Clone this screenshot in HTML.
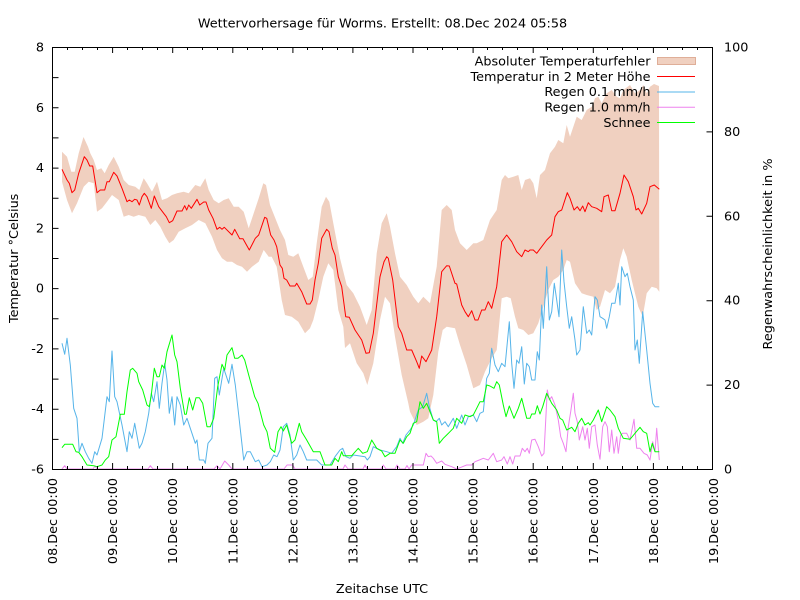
<!DOCTYPE html>
<html><head><meta charset="utf-8"><style>
html,body{margin:0;padding:0;background:#fff;}
svg{display:block;font-family:"DejaVu Sans","Liberation Sans",sans-serif;}
</style></head><body>
<svg width="800" height="600" viewBox="0 0 800 600" xmlns="http://www.w3.org/2000/svg">
<rect width="800" height="600" fill="#fff"/>
<text x="382.5" y="27.5" font-size="12.8" text-anchor="middle">Wettervorhersage für Worms. Erstellt: 08.Dec 2024 05:58</text>

<!-- error band -->
<polygon fill="#f0d0c0" stroke="none" points="
62,151.7 67,156.7 71.3,171.7 74.7,171.7 78.7,153.3 83.5,137 88,146.7 90.3,153.3 93.7,160 97,170 101.3,168.3 104.7,173.3 108.7,165 113.7,156.7 118.7,166.7 123.7,180 128.7,185 135.3,186.7 139.3,190 143.7,178.3 147,183.3 152,191.7 157,181.7 162,200 167,198.3 172,195 177,193.3 183.7,191.7 188.7,193.3 195.3,185 200.3,186.7 205.3,178.3 208.7,190 213.7,200 218.7,203.3 223.7,200 228.7,198.3 233.7,206.7 238.7,206.7 243.7,211.7 248.7,228.3 253.7,213.3 258.7,198.3 263.3,183.3 266,185 270,205 273.3,213.3 276.7,221.7 280,230 285,240 288.3,255 293.3,256.7 298.3,253.3 303.3,266.7 308.3,280 312.7,276.7 316.7,243.3 321.7,206.7 326,196.7 329.3,201.7 333.3,223.3 340,258.3 346.7,285 353.3,293.3 360,306.7 366.7,325 371.7,310 376.7,253.3 381.7,223.3 386.7,213.3 390,226.7 395,253.3 400,276.7 406.7,285 413.3,296.7 418.3,303.3 423.3,296.7 430,303.3 436.7,266.7 441.7,210 446.7,205 451.7,210 455,230 460,243.3 466.7,250 473.3,243.3 476.7,243.3 483.3,240 490,220 496.7,210 501.7,180 505,175 508.3,178.3 513.3,176.7 518.3,175 521.7,190 525,180 530,178.3 533.3,183.3 536.7,198.3 540,175 545,170 550,153.3 555,146.7 558.3,140 563.3,143.3 566.7,125 570,136.7 576.7,116.7 581.7,120 586.7,110 591.7,106.7 595,98.3 598.3,96.7 601.7,103.3 606.7,93.3 611.7,90 616.7,96.7 620,98.3 623.3,90 630,85 635,93.3 640,90 643.3,85 646.7,93.3 650,86.7 654,84 659,86
659.3,291.7 656.7,288.3 651.7,286.7 646.7,293.3 642.7,316.7 638.3,306.7 631.7,280 626.7,256.7 623.3,248.3 620,260 615,286.7 610,293.3 605,290 600,306.7 596.7,310 593.3,296.7 586.7,295 581.7,293.3 575,283.3 570,261.7 566.7,260 563.3,270 558.3,276.7 553.3,280 548.3,290 543.3,306.7 538.3,323.3 533.3,333.3 528.3,335 523.3,330 518.3,328.3 515,316.7 510.7,298.3 506.7,296.7 501.7,298.3 496.7,350 491.7,358.3 485,371.7 480,385 473.3,388.3 466.7,365 460,345 455,328.3 446.7,326.7 442.7,330 438.3,351.7 433.3,395 428.3,418.3 423.3,421.7 416.7,425 410,411.7 408.3,403.3 401.7,375 395,336.7 390,303.3 385,296.7 380,320 373.3,363.3 370,375 367.3,385 363.3,373.3 356.7,363.3 350,343.3 345,348 343.3,326.7 338.3,310 333.3,270 328.3,263.3 323.3,276.7 318.3,300 313.3,320 310,328.3 305,333.3 298.3,321.7 291.7,316.7 285,315 281.7,300 276.7,266.7 271.7,256.7 268.7,256.7 263.7,250 258.7,261.7 252,266.7 247,271.7 242,266.7 237,265 232,261.7 227,261.7 222,258.3 217,250 212,236.7 205.3,223.3 198.7,220 192,225 185.3,228.3 178.7,231.7 173.7,240 169.3,243.3 165.3,236.7 160.3,226.7 155.3,220 150.3,225 145.3,216.7 138.7,215 133.7,216.7 128.7,215 123.7,216.7 118.7,200 112,195 107,201.7 102,208.3 97,211.7 93.7,183.3 88.7,181.7 83.7,186.7 77,203.3 72,213.3 67,200 62,181.7"/>

<!-- temperature -->
<polyline fill="none" stroke="#ff0000" stroke-width="1" stroke-linejoin="round" points="
62,169.3 67,180 69.3,183.3 72,192.7 74.7,190 78.7,173.3 84.3,156.7 87,160 89.7,166 92.7,166 97,192.7 100.3,190 104.7,190 107,181.7 109.3,181.7 113.7,172.3 117,176 122,188.3 127,201.7 129.3,200 132,201.7 134.7,199.3 137,200 139.3,205 142,196.7 144.3,193.3 147,196.7 151.3,208.3 154.3,196 158.7,206.7 163.7,213.3 166.3,216.7 169.3,222.7 172.7,220.7 177,211 182,211 184.7,205.7 186.7,210 188.7,205 191.3,208.3 197,199.3 199.7,205 203.7,202 206,202 208.7,210 213,218.3 217,229.3 219.7,227.3 222,229.3 224.3,227.3 232,235 234.7,229.3 239.7,238.7 243,238.7 249.3,250 255.3,238.3 258.7,235 264.7,217.3 266.7,218.3 270.7,235 274,240 276.7,246.7 280,265 282.3,268.3 284,278.3 286.7,280 290,286 295,286 296.7,283.3 301.7,291.7 306.7,304 310,304 312.3,300 315,280 318.3,263.3 321.7,238.3 326.7,229.3 329,231.7 332.3,248.3 335,255 338.3,276.7 341.7,286.7 345.7,316.7 349.3,317.3 355,330 361.7,340 366,353.3 369.3,352.7 373.3,333.3 380,276.7 384,261.7 386.7,256.7 388.3,258.3 392.7,280 398.3,326.7 401.7,333.3 406.7,350 411.7,350 416.7,361.7 419.3,368.3 421.7,356 426,361.7 431.7,350 436.7,316.7 441.7,271.7 446.7,265.7 449.3,266 455,283.3 456.7,284 461.7,305 465,311.7 468.3,316.7 471.7,310.7 475,320 478,320 481.7,310 485,310 488.3,301.7 491.7,308.3 496.7,286.7 501.7,241.7 506.7,235 511.7,241.7 516.7,251.7 521.7,256.7 525,250 528.3,251.7 530,250 533.3,250 536.7,253.3 541.7,246.7 546.7,240 551.7,235 555,216.7 558.3,211.7 561.7,210 563.3,205 567.3,192.7 570,198.3 574,210 577.3,206.7 580,210.7 582.7,206 585,211.7 588.3,202.7 591.7,206.7 596.7,208.3 601.7,211.7 604,196.7 608.3,195 611.7,210.7 615,210.7 620,193.3 624,175 628.3,181.7 633.3,196.7 636,210 638.3,208.3 641.7,214 646.7,203.3 650,186.7 654.3,185 659.3,189.3"/>

<!-- Regen 0.1 -->
<polyline fill="none" stroke="#56b4e9" stroke-width="1" stroke-linejoin="round" points="
62,343.3 64.7,354.3 67,338.3 70.3,365 73.7,408.3 77,418.3 79.3,451.7 82,443.3 85.3,451.7 88.7,458.3 92,463.3 94.7,451.7 97,455 102,438.3 107,396.7 109.3,401.7 112,351 114.7,396.7 117,401.7 122,425 127,451.7 129.3,431.7 132,438.3 134.7,423.3 139.3,448.3 142,443.3 145.3,431.7 148.7,413.3 151.3,393.3 153.7,401.7 157,381.7 159.3,408.3 162,383.3 164.7,363.3 167,380 169.3,413.3 172,396.7 174.7,425 177,396.7 180.3,405 183.7,425 187,418.3 190.3,428.3 195.3,443.3 197,440 199.3,460 203.7,460 205.3,463.3 208,443.3 212,438.3 214.7,378.3 217,376.7 219.3,395 223.7,368.3 228.7,383.3 232,364.3 235.3,385 238.7,415 241.3,438.3 243.7,460 247,451.7 250.3,451.7 255.3,461.7 258.7,460 262,466.7 267,465 270.3,461.7 273.7,455 277,456.7 280,450 283.3,426.7 286.7,423.3 290,435 293.3,460 296.7,455 300,445 303.3,451.7 306.7,460 316.7,460 321.7,465 330,465 335,456.7 340,450 342.7,448.3 346,456.7 350,458.3 353.3,455 365,456.7 367.3,460 370,456.7 373.3,446.7 380,450 386.7,451.7 391.7,453.3 396.7,446.7 400,438.3 402.7,443.3 406,435 410,430 413.3,425 418.3,410 422.7,406.7 426.7,393.3 429.3,406.7 433.3,420 436,421.7 439.3,418.3 441.7,425 445,421.7 448.3,426.7 453.3,418.3 456.7,428.3 461.7,415 465,425 468.3,416.7 473.3,415 476.7,421.7 480,413.3 483.3,411.7 486.7,378.3 489.3,373.3 491.7,348.3 495,365 498.3,371.7 501.7,363.3 505,366.7 509.3,321.7 511.7,363.3 514,388.3 516.7,360 519,363.3 521.7,346.7 524.3,384 526.7,363.3 529.3,366.7 531.7,380 535,380 537.3,351.7 539.3,360 541.7,305 543.3,328.3 546.7,266.7 549.3,320 551.7,311.7 554.3,283.3 556.7,300 559,316.7 561.7,250 564,281.7 566.7,306.7 569.3,328.3 571.7,316.7 575,340 576.7,355 580,350 583.3,306.7 586.7,333.3 589.3,330 591.7,335 595,296.7 597.3,300 600,316.7 602.7,318.3 605,320 606.7,328.3 609.3,316.7 611.7,303.3 615,303.3 618.3,283.3 620,305 621.7,266.7 625,276.7 627.3,273.3 630,286.7 633.3,300 635,350 637.3,340 639.3,363.3 642.7,311.7 646.7,350 650,383.3 652.7,403.3 655,406.7 659.3,406.7"/>

<!-- Regen 1.0 -->
<polyline fill="none" stroke="#ee82ee" stroke-width="1" stroke-linejoin="round" points="
62,469 64.7,465.7 67,469 93,469 95,466 97,469 148,469 150.3,465.7 153,469 214,469 217,465.7 220,469 224.7,461 228.7,465 232,469 284,469 287,465 292.7,465 295,469 343,469 345,465 348,469 363,469 365,465 367,469 381,469 383.3,465 386,469 395,469 397,465 400,469 405,469 407,465.5 409,469 411.7,465 420,465 423.3,465 426,453.3 428.3,456.7 431,456 433.3,458.3 436.7,463.3 441.7,461 445,464.3 451.7,466.7 456.7,469 460,467.7 466.7,465 471.7,465 475,461.7 479.3,460 483.3,458.3 488.3,460 493.3,453.3 496.7,461.7 501.7,460 504,456.7 507.3,464 510,456.7 512.7,464 515,456 520,456 522.3,448.3 525,451.7 527.3,448.3 529.3,453.3 531.7,440 535,439.3 538.3,446.7 541.7,456 544,453.3 547.3,390 549.3,400 551.7,396.7 555,405 558.3,420 560.7,436.7 563.3,443.3 566,451.7 568.3,426.7 570.7,411.7 573.3,393.3 575,413.3 577.3,421.7 579.3,440 582.7,426.7 585,440 587.3,428.3 589.3,448.3 591.7,426.7 595,425 597.3,445 600,459.3 602.7,426.7 605,421.7 607.3,426.7 609.3,451.7 611.7,430 614,453.3 616.7,436.7 618.3,453.3 620.7,435 622.7,433.3 626.7,433.3 630,440 634,419.3 636.7,448.3 640,448.3 644,453.3 647.3,455 650,460 652.7,441.7 655,451.7 656.7,428.3 659.3,460"/>

<!-- Schnee -->
<polyline fill="none" stroke="#00ff00" stroke-width="1" stroke-linejoin="round" points="
62,447.7 64.7,444.3 72.7,444.3 76,451.7 78.7,452.3 82,456.7 87,465 93.7,465.7 97,466.7 102,465 105.3,460 108.7,456.7 112,440 116,436.7 120.3,414.3 124.3,414.3 127,391.7 130.3,370 132.7,368.3 137,373.3 138.7,381.7 142.7,390 147,405 149.3,406.7 151.3,395 154.3,368.3 157,376.7 159.3,376.7 162,365 164.3,368.3 167,351.7 172,335 174.7,355 177,361.7 180.3,388.3 184.7,414.3 186.3,414.3 189.3,397.7 192.7,410 196,397.7 199.3,397.7 202.7,403.3 207,426.7 210.3,426.7 213.7,418.3 217.7,386.7 222,364.3 224.7,370 227,355 232,347.7 234.7,358.3 238,358.3 242,355 244.7,360 248.7,375 254.7,396.7 258,403.3 263.7,425 267,431.7 270.3,448.3 274.7,452.3 278,431.7 281,426.7 283.3,431 286.7,425 291.7,443.3 295,440 299.3,423.3 301.7,431.7 306.7,440 313.3,451.7 320,451.7 325,465 331.7,465 335,458.3 338.3,461.7 341.7,451.7 343.3,455.7 351.7,455.7 358.3,448.3 362.7,453.3 367.3,451.7 371.7,440 376.7,448.3 381.7,451 385,456.7 390,453.3 395,453.3 400,440 403.3,443.3 406.7,436.7 410,433.3 413.3,423.3 416.7,421.7 420,401.7 423.3,408.3 426.7,403.3 430,411.7 433.3,420 436.7,421.7 439.3,443.3 443.3,438.3 446.7,435 450,431.7 453.3,428.3 456.7,418.3 461.7,423.3 465,415 470,416.7 473.3,415 476.7,408.3 480,401.7 483.3,401.7 486.7,385 490,386 494,388.3 496.7,381.7 499.3,385 503.3,405 506,416.7 509.3,406 514,418.3 518.3,408.3 521.7,398.3 526.7,418.3 530,418.3 531.7,414 535,414 537.3,405.7 540,414 542.7,406.7 546.7,393.3 551.7,403.3 556.7,410 560,418.3 562.7,420 566.7,430 571.7,427.3 575,431.7 578.3,423.3 581.7,418.3 585,425 588.3,422.7 590,425 593.3,420 598.3,410 601.7,421.7 606.7,406.7 610,410 615,416.7 618.3,428.3 623.3,438.3 630,439.3 635,433.3 640,427.3 643.3,431.7 646.7,433.3 650,451.7 652.3,443.3 655,451.7 659.3,451.7"/>

<!-- frame -->
<rect x="52.5" y="47.5" width="660" height="422" fill="none" stroke="#000" stroke-width="1"/>

<!-- y ticks -->
<g stroke="#000" stroke-width="1">
<path d="M52.5,47.5h6M52.5,77.6h6M52.5,107.8h6M52.5,137.9h6M52.5,168.1h6M52.5,198.2h6M52.5,228.4h6M52.5,258.5h6M52.5,288.6h6M52.5,318.8h6M52.5,348.9h6M52.5,379.1h6M52.5,409.2h6M52.5,439.4h6M52.5,469.5h6"/>
<path d="M712.5,47.5h-6M712.5,131.9h-6M712.5,216.3h-6M712.5,300.7h-6M712.5,385.1h-6M712.5,469.5h-6"/>
</g>

<!-- y labels left -->
<g font-size="12.8" text-anchor="end" fill="#000">
<text x="44" y="51.5">8</text>
<text x="44" y="111.8">6</text>
<text x="44" y="172.1">4</text>
<text x="44" y="232.4">2</text>
<text x="44" y="292.6">0</text>
<text x="44" y="352.9">-2</text>
<text x="44" y="413.2">-4</text>
<text x="44" y="473.5">-6</text>
</g>
<g font-size="12.8" text-anchor="start" fill="#000">
<text x="724" y="51.5">100</text>
<text x="724" y="136">80</text>
<text x="724" y="220.3">60</text>
<text x="724" y="304.7">40</text>
<text x="724" y="389.1">20</text>
<text x="724" y="473.5">0</text>
</g>

<!-- x ticks -->
<path stroke="#000" stroke-width="1" fill="none" d="
M112.6,469v-6M172.7,469v-6M232.8,469v-6M292.9,469v-6M352.9,469v-6M413,469v-6M473.1,469v-6M533.2,469v-6M593.3,469v-6M653.4,469v-6
M112.6,47v6M172.7,47v6M232.8,47v6M292.9,47v6M352.9,47v6M413,47v6M473.1,47v6M533.2,47v6M593.3,47v6M653.4,47v6
M67.5,469v-3M82.5,469v-3M97.5,469v-3M127.5,469v-3M142.5,469v-3M157.5,469v-3M187.5,469v-3M202.5,469v-3M217.5,469v-3M247.5,469v-3M262.5,469v-3M277.5,469v-3M307.5,469v-3M322.5,469v-3M337.5,469v-3M367.5,469v-3M382.5,469v-3M397.5,469v-3M427.5,469v-3M442.5,469v-3M457.5,469v-3M487.5,469v-3M502.5,469v-3M517.5,469v-3M547.5,469v-3M562.5,469v-3M577.5,469v-3M607.5,469v-3M622.5,469v-3M637.5,469v-3M667.5,469v-3M682.5,469v-3M697.5,469v-3
M67.5,47v3M82.5,47v3M97.5,47v3M127.5,47v3M142.5,47v3M157.5,47v3M187.5,47v3M202.5,47v3M217.5,47v3M247.5,47v3M262.5,47v3M277.5,47v3M307.5,47v3M322.5,47v3M337.5,47v3M367.5,47v3M382.5,47v3M397.5,47v3M427.5,47v3M442.5,47v3M457.5,47v3M487.5,47v3M502.5,47v3M517.5,47v3M547.5,47v3M562.5,47v3M577.5,47v3M607.5,47v3M622.5,47v3M637.5,47v3M667.5,47v3M682.5,47v3M697.5,47v3"/>

<!-- x labels -->
<g font-size="12.8" text-anchor="end" fill="#000">
<text transform="translate(57,478) rotate(-90)">08.Dec 00:00</text>
<text transform="translate(117.1,478) rotate(-90)">09.Dec 00:00</text>
<text transform="translate(177.2,478) rotate(-90)">10.Dec 00:00</text>
<text transform="translate(237.3,478) rotate(-90)">11.Dec 00:00</text>
<text transform="translate(297.4,478) rotate(-90)">12.Dec 00:00</text>
<text transform="translate(357.4,478) rotate(-90)">13.Dec 00:00</text>
<text transform="translate(417.5,478) rotate(-90)">14.Dec 00:00</text>
<text transform="translate(477.6,478) rotate(-90)">15.Dec 00:00</text>
<text transform="translate(537.7,478) rotate(-90)">16.Dec 00:00</text>
<text transform="translate(597.8,478) rotate(-90)">17.Dec 00:00</text>
<text transform="translate(657.9,478) rotate(-90)">18.Dec 00:00</text>
<text transform="translate(718,478) rotate(-90)">19.Dec 00:00</text>
</g>

<!-- axis titles -->
<text transform="translate(18,258.3) rotate(-90)" font-size="12.8" text-anchor="middle">Temperatur °Celsius</text>
<text transform="translate(772,254) rotate(-90)" font-size="12.8" text-anchor="middle">Regenwahrscheinlichkeit in %</text>
<text x="382" y="593" font-size="12.8" text-anchor="middle">Zeitachse UTC</text>

<!-- legend -->
<g font-size="12.8" text-anchor="end" fill="#000">
<text x="650.5" y="65.5">Absoluter Temperaturfehler</text>
<text x="650.5" y="80.8">Temperatur in 2 Meter Höhe</text>
<text x="650.5" y="96.2">Regen 0.1 mm/h</text>
<text x="650.5" y="111.5">Regen 1.0 mm/h</text>
<text x="650.5" y="126.8">Schnee</text>
</g>
<rect x="657.5" y="57.5" width="38" height="7" fill="#f0d0c0" stroke="#dfae98" stroke-width="1"/>
<line x1="657" y1="76.5" x2="695" y2="76.5" stroke="#ff0000" stroke-width="1"/>
<line x1="657" y1="92" x2="695" y2="92" stroke="#56b4e9" stroke-width="1"/>
<line x1="657" y1="107.3" x2="695" y2="107.3" stroke="#ee82ee" stroke-width="1"/>
<line x1="657" y1="122.5" x2="695" y2="122.5" stroke="#00ff00" stroke-width="1"/>
</svg>
</body></html>
